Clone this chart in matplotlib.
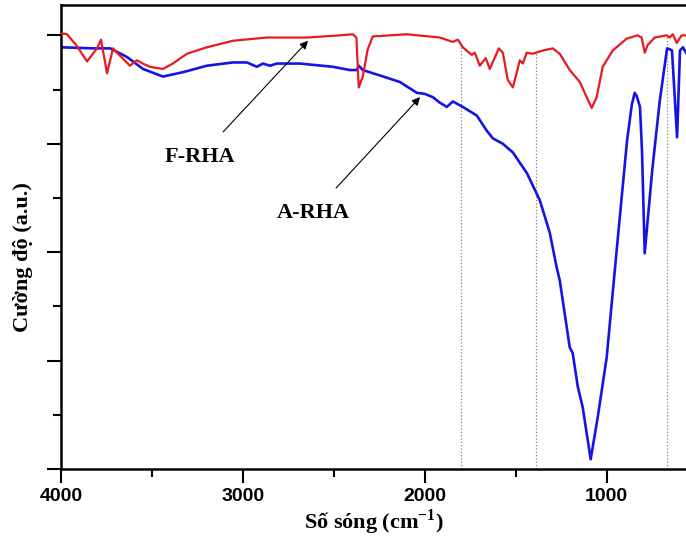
#!/usr/bin/env python3

import numpy as np
import matplotlib.pyplot as plt
from matplotlib.ticker import MultipleLocator, NullFormatter


##### data #####
# F-RHA (red), wavenumber (cm-1) vs intensity (a.u.)
F_RHA_X = [4000, 3967, 3912, 3857, 3802, 3780, 3747, 3714, 3692, 3621, 3583,
           3550, 3511, 3440, 3385, 3308, 3198, 3055, 2868, 2648, 2467, 2396,
           2376, 2363, 2341, 2314, 2286, 2099, 1918, 1846, 1818, 1791, 1742,
           1725, 1698, 1665, 1643, 1593, 1571, 1544, 1516, 1494, 1478, 1461,
           1440, 1407, 1352, 1297, 1258, 1203, 1148, 1110, 1082, 1055, 1022,
           967, 890, 830, 808, 791, 775, 736, 670, 653, 637, 615, 588, 566]
F_RHA_Y = [4.02, 4.01, 3.90, 3.76, 3.88, 3.96, 3.65, 3.88, 3.84, 3.72, 3.77,
           3.74, 3.71, 3.69, 3.74, 3.83, 3.89, 3.95, 3.98, 3.98, 4.00, 4.01,
           3.98, 3.52, 3.62, 3.87, 3.99, 4.01, 3.98, 3.94, 3.96, 3.89, 3.82,
           3.84, 3.72, 3.79, 3.69, 3.88, 3.84, 3.59, 3.52, 3.66, 3.77, 3.74,
           3.84, 3.83, 3.86, 3.88, 3.83, 3.68, 3.57, 3.43, 3.33, 3.43, 3.71,
           3.86, 3.97, 4.00, 3.98, 3.84, 3.91, 3.98, 4.00, 3.98, 4.01, 3.93,
           4.00, 4.00]

# A-RHA (blue)
A_RHA_X = [4000, 3824, 3730, 3637, 3549, 3440, 3330, 3198, 3055, 2978, 2923,
           2890, 2852, 2813, 2687, 2505, 2412, 2374, 2363, 2341, 2247, 2137,
           2044, 2000, 1956, 1918, 1879, 1846, 1791, 1714, 1659, 1626, 1571,
           1516, 1439, 1368, 1313, 1275, 1258, 1203, 1187, 1159, 1132, 1088,
           1049, 1000, 945, 888, 862, 846, 835, 817, 806, 791, 750, 708, 668,
           652, 641, 613, 597, 581, 564]
A_RHA_Y = [3.89, 3.88, 3.88, 3.80, 3.69, 3.62, 3.66, 3.72, 3.75, 3.75, 3.71,
           3.74, 3.72, 3.74, 3.74, 3.71, 3.68, 3.68, 3.72, 3.68, 3.63, 3.57,
           3.47, 3.46, 3.43, 3.38, 3.34, 3.39, 3.34, 3.26, 3.12, 3.05, 3.00,
           2.92, 2.73, 2.48, 2.18, 1.86, 1.74, 1.12, 1.07, 0.76, 0.57, 0.09,
           0.48, 1.03, 2.02, 3.03, 3.36, 3.47, 3.44, 3.34, 2.94, 1.99, 2.75,
           3.40, 3.88, 3.87, 3.86, 3.06, 3.86, 3.89, 3.84]

# dotted guide lines
GUIDE_X = [1800, 1390, 670]

X_TICKS = [4000, 3000, 2000, 1000]


##### figure #####
plt.rcParams["font.family"] = ["Liberation Serif", "DejaVu Serif"]
plt.rcParams["mathtext.fontset"] = "custom"
plt.rcParams["mathtext.rm"] = "Liberation Serif"
plt.rcParams["mathtext.bf"] = "Liberation Serif:bold"

fig = plt.figure(figsize=(6.86, 5.39), dpi=100)
ax = fig.add_axes([61 / 686, 70 / 539, 625 / 686, 464 / 539])

order = np.argsort(F_RHA_X)
red_at = np.interp(GUIDE_X, np.array(F_RHA_X)[order], np.array(F_RHA_Y)[order])
for gx, gy in zip(GUIDE_X, red_at):
    ax.plot([gx, gx], [0, gy], color="gray", linestyle=":", linewidth=0.9, zorder=1)

ax.plot(F_RHA_X, F_RHA_Y, color="#e8191f", linewidth=1.6, zorder=3)
ax.plot(A_RHA_X, A_RHA_Y, color="#1414e6", linewidth=1.9, zorder=2)

##### annotations #####
ax.annotate("F-RHA", xy=(2642, 3.95), xytext=(3236, 2.88),
            ha="center", va="center", fontsize=16, fontweight="bold",
            arrowprops=dict(arrowstyle="-|>", color="black", lw=0.8,
                            shrinkA=12, shrinkB=0, mutation_scale=12))
ax.annotate("A-RHA", xy=(2026, 3.43), xytext=(2615, 2.36),
            ha="center", va="center", fontsize=16, fontweight="bold",
            arrowprops=dict(arrowstyle="-|>", color="black", lw=0.8,
                            shrinkA=12, shrinkB=0, mutation_scale=12))

##### axes styling #####
ax.set_xlim(4000, 564)
ax.set_ylim(0, 4.28)

ax.set_xticks(X_TICKS)
ax.set_xticklabels([str(t) for t in X_TICKS], fontfamily="Liberation Sans",
                   fontweight="bold", fontsize=14)
ax.xaxis.set_minor_locator(MultipleLocator(500))
ax.yaxis.set_major_locator(MultipleLocator(1))
ax.yaxis.set_minor_locator(MultipleLocator(0.5))
ax.yaxis.set_major_formatter(NullFormatter())

ax.tick_params(axis="both", which="major", direction="out", length=10, width=1.5)
ax.tick_params(axis="both", which="minor", direction="out", length=6, width=1.5)
ax.tick_params(axis="x", pad=4)

for side in ["left", "bottom", "top"]:
    ax.spines[side].set_linewidth(1.8)
ax.spines["right"].set_visible(False)

ax.set_xlabel("Số sóng (cm$^{\\mathbf{-1}}$)", fontsize=16, fontweight="bold")
ax.set_ylabel("Cường độ (a.u.)", fontsize=16, fontweight="bold")
ax.yaxis.set_label_coords(-0.045, 0.457)
ax.xaxis.set_label_coords(0.5, -0.082)

fig.savefig("out.png", dpi=100)
